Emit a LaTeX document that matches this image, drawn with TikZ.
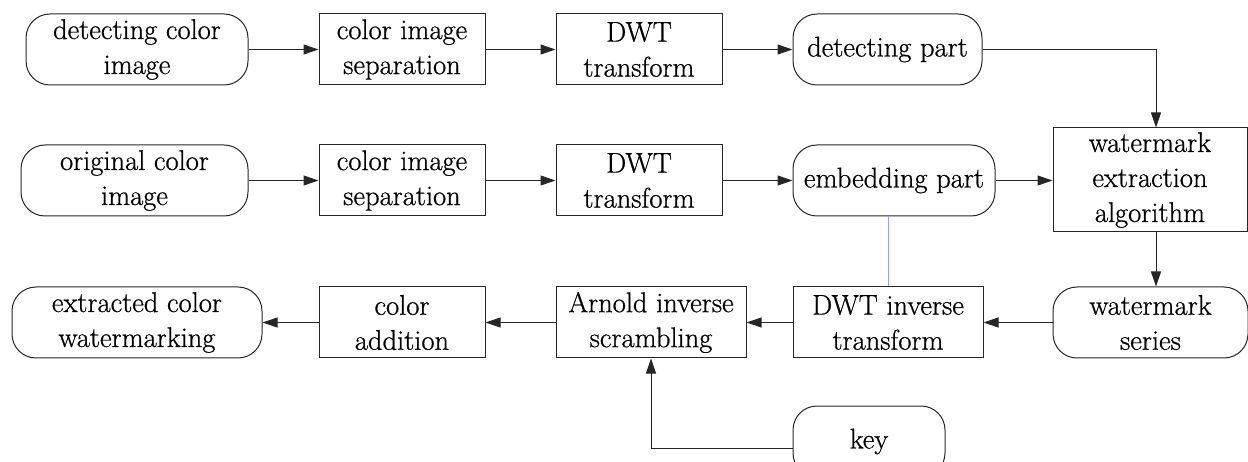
\documentclass[tikz,border=0pt]{standalone}
\usepackage{fontspec}
\setmainfont{Latin Modern Roman}[FakeBold=0.7]
\usetikzlibrary{arrows.meta,calc}
\begin{document}
\begin{tikzpicture}[x=1pt,y=-1pt,
  font=\fontsize{28.5}{35}\selectfont,
  base/.style={draw=black!85, line width=1pt, align=center, inner sep=0pt,
               minimum height=71pt, text=black},
  proc/.style={base},
  term/.style={base, rounded corners=24pt},
  flow/.style={draw=black!85, line width=1pt, -{Triangle[length=15pt,width=10pt]}},
  link/.style={draw={rgb,255:red,140;green,170;blue,220}, line width=1pt}]
\useasboundingbox (0,0) rectangle (1248,462);

% upper row: detection branch
\node[term, minimum width=222pt] (dci)  at (137,49.5)   {detecting color\\image};
\node[proc, minimum width=166pt] (sepA) at (402,49.5)   {color image\\separation};
\node[proc, minimum width=166pt] (dwtA) at (639,49.5)   {DWT\\transform};
\node[term, minimum width=189pt] (dp)   at (887.5,49.5) {detecting part};

% middle row: embedding branch
\node[term, minimum width=227pt] (oci)  at (134.5,180.5) {original color\\image};
\node[proc, minimum width=166pt] (sepB) at (402,180.5)   {color image\\separation};
\node[proc, minimum width=166pt] (dwtB) at (639,180.5)   {DWT\\transform};
\node[term, minimum width=202pt] (ep)   at (894,180.5)   {embedding part};
\node[proc, minimum width=194pt, minimum height=104pt] (wea) at (1150,180)
     {watermark\\extraction\\algorithm};

% lower row: recovery of the watermark
\node[term, minimum width=195pt] (ws)   at (1150.5,322.5) {watermark\\series};
\node[proc, minimum width=190pt] (dwti) at (888,322.5)    {DWT inverse\\transform};
\node[proc, minimum width=190pt] (ais)  at (651,322.5)    {Arnold inverse\\scrambling};
\node[proc, minimum width=166pt] (ca)   at (402,322.5)    {color\\addition};
\node[term, minimum width=250pt] (ecw)  at (137,322.5)    {extracted color\\watermarking};
\node[term, minimum width=152pt] (key)  at (869,441.5)    {key};

% connectors
\draw[flow] (dci) -- (sepA);
\draw[flow] (sepA) -- (dwtA);
\draw[flow] (dwtA) -- (dp);
\draw[flow] (dp.east) -| ([xshift=6pt]wea.north);

\draw[flow] (oci) -- (sepB);
\draw[flow] (sepB) -- (dwtB);
\draw[flow] (dwtB) -- (ep);
\draw[flow] (ep.east) -- (ep.east -| wea.west);

\draw[flow] ([xshift=6pt]wea.south) -- ([xshift=6pt]wea.south |- ws.north);
\draw[flow] (ws) -- (dwti);
\draw[flow] (dwti) -- (ais);
\draw[flow] (ais) -- (ca);
\draw[flow] (ca) -- (ecw);
\draw[flow] ([yshift=-6.5pt]key.west) -| (ais.south);

\draw[link] (dwti.north) -- (dwti.north |- ep.south);
\end{tikzpicture}
\end{document}
